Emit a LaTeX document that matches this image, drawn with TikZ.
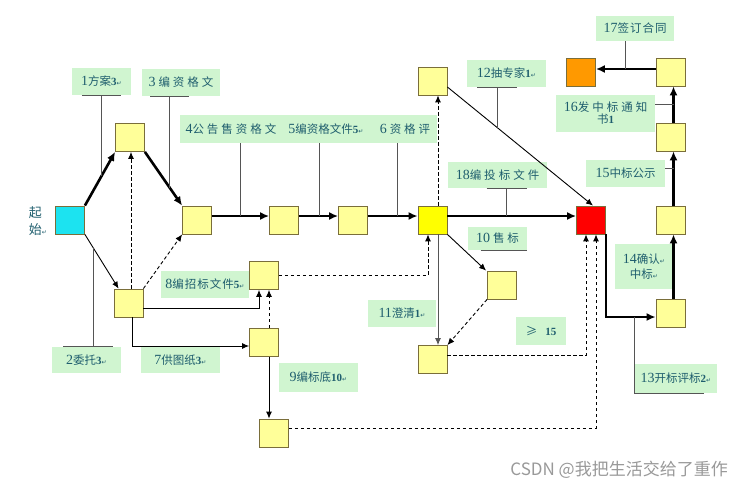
\documentclass[tikz,border=0pt]{standalone}
\usepackage{fontspec}
\setmainfont{Liberation Serif}
\newfontfamily\cjk{Noto Sans CJK SC}
\newfontfamily\djv{DejaVu Sans}
\usetikzlibrary{calc,arrows.meta}
\definecolor{boxy}{HTML}{FFFF99}
\definecolor{boxline}{HTML}{7A6E3A}
\definecolor{brighty}{HTML}{FFFF00}
\definecolor{startcyan}{HTML}{1CE3F0}
\definecolor{endred}{HTML}{FF0000}
\definecolor{signorange}{HTML}{FF9900}
\definecolor{labgreen}{HTML}{D0F5D0}
\definecolor{labtext}{HTML}{1F5E6E}
\definecolor{leadgray}{HTML}{555555}
\newcommand\retmark{{\djv\fontsize{6}{6}\selectfont ↵}}
\newcommand\nm[1]{{\fontsize{14}{14}\selectfont #1}}
\newcommand\bn[1]{{\fontsize{11}{11}\selectfont\bfseries #1}}
\newcommand\gp{\hspace{3pt}}
\begin{document}
\begin{tikzpicture}[x=1pt,y=-1pt,
  box/.style={draw=boxline, fill=boxy, minimum width=29pt, minimum height=28pt, inner sep=0pt, line width=0.8pt},
  lab/.style={fill=labgreen, text=labtext, inner sep=0pt, align=center, font=\cjk\fontsize{11.5}{15}\selectfont},
  thickarr/.style={line width=2.6pt, -{Latex[length=9pt,width=8pt]}},
  thinarr/.style={line width=0.9pt, -{Latex[length=7pt,width=6pt]}},
  dasharr/.style={thinarr, dash pattern=on 3.5pt off 2.5pt},
  leader/.style={line width=0.7pt, draw=leadgray}]
\useasboundingbox[fill=white] (0,0) rectangle (743,490);

% labels
\node[lab, minimum width=59pt, minimum height=27pt] (L1) at (101.5,81.5) {{\rmfamily\nm{1}}方案{\rmfamily\bn{3}}\retmark};
\node[lab, minimum width=78pt, minimum height=27pt] (L3) at (181,82.5) {{\rmfamily\nm{3}}\gp 编\gp 资\gp 格\gp 文};
\node[lab, minimum width=257pt, minimum height=28pt] (L456) at (308.5,129) {};
\node[text=labtext, font=\cjk\fontsize{11.5}{15}\selectfont, inner sep=0pt] (L4) at (231,129) {{\rmfamily\nm{4}}公\gp 告\gp 售\gp 资\gp 格\gp 文};
\node[text=labtext, font=\cjk\fontsize{11.5}{15}\selectfont, inner sep=0pt] (L5) at (326,129) {{\rmfamily\nm{5}}编资格文件{\rmfamily\bn{5}}\retmark};
\node[text=labtext, font=\cjk\fontsize{11.5}{15}\selectfont, inner sep=0pt] (L6) at (405,129) {{\rmfamily\nm{6}}\gp 资\gp 格\gp 评};
\node[lab, minimum width=79pt, minimum height=27pt] (L12) at (506.5,73.5) {{\rmfamily\nm{12}}抽专家{\rmfamily\bn{1}}\retmark};
\node[lab, minimum width=78pt, minimum height=25pt] (L17) at (635,28.5) {{\rmfamily\nm{17}}签\hspace{1pt}订\hspace{1pt}合\hspace{1pt}同};
\node[lab, minimum width=99pt, minimum height=37pt] (L16) at (605.5,113.5) {{\rmfamily\nm{16}}发\gp 中\gp 标\gp 通\gp 知\\[-3pt]书{\rmfamily\bn{1}}\hspace{50pt}};
\node[lab, minimum width=79pt, minimum height=27pt] (L15) at (625.5,173.5) {{\rmfamily\nm{15}}中标公示};
\node[lab, minimum width=99pt, minimum height=26pt] (L18) at (497.5,175) {{\rmfamily\nm{18}}编\gp 投\gp 标\gp 文\gp 件};
\node[lab, minimum width=59pt, minimum height=23pt] (L10) at (497.5,238.5) {{\rmfamily\nm{10}}\gp 售\gp 标};
\node[lab, minimum width=58pt, minimum height=45pt] (L14) at (644,266.5) {{\rmfamily\nm{14}}确认\retmark\\中标\retmark};
\node[lab, minimum width=68pt, minimum height=27pt] (L11) at (402,313.5) {{\rmfamily\nm{11}}澄清{\rmfamily\bn{1}}\retmark};
\node[lab, minimum width=50pt, minimum height=28pt] (L15b) at (541,331) {≥\hspace{8pt}{\rmfamily\bn{15}}};
\node[lab, minimum width=82pt, minimum height=29pt] (L13) at (676,378.5) {{\rmfamily\nm{13}}开标评标{\rmfamily\bn{2}}\retmark};
\node[lab, minimum width=88pt, minimum height=27pt] (L8) at (205,284.5) {{\rmfamily\nm{8}}编\hspace{1pt}招\hspace{1pt}标\hspace{1pt}文\hspace{1pt}件{\rmfamily\bn{5}}\retmark};
\node[lab, minimum width=79pt, minimum height=26pt] (L7) at (180.5,360) {{\rmfamily\nm{7}}供图纸{\rmfamily\bn{3}}\retmark};
\node[lab, minimum width=69pt, minimum height=26pt] (L2) at (86.5,360) {{\rmfamily\nm{2}}委托{\rmfamily\bn{3}}\retmark};
\node[lab, minimum width=79pt, minimum height=29pt] (L9) at (318.5,377.5) {{\rmfamily\nm{9}}编标底{\rmfamily\bn{10}}\retmark};

\node[text=labtext, font=\cjk\fontsize{13}{17}\selectfont, align=left, inner sep=0pt] (qs) at (38,221) {起\\始\retmark};

% boxes
\node[box, fill=startcyan] (S) at (70,220) {};
\node[box] (A) at (130,137.5) {};
\node[box] (B) at (197,220) {};
\node[box] (C) at (128.5,303) {};
\node[box] (D) at (284,220) {};
\node[box] (E) at (353,220) {};
\node[box, fill=brighty] (F) at (432.5,220) {};
\node[box] (G) at (432.5,81) {};
\node[box] (H) at (264,275.5) {};
\node[box] (I) at (264,342.5) {};
\node[box] (J) at (274,433) {};
\node[box] (K) at (502,285) {};
\node[box] (L) at (432.5,359.5) {};
\node[box, fill=endred] (R) at (591,220) {};
\node[box] (M) at (670.5,313) {};
\node[box] (N) at (670.5,220) {};
\node[box] (O) at (670.5,137) {};
\node[box] (P) at (670.5,72) {};
\node[box, fill=signorange] (Q) at (581,72) {};

% thick arrows
\draw[thickarr] (S.north east) -- coordinate[pos=0.548] (s1) (A.south west);
\draw[thickarr] (A.south east) -- coordinate[pos=0.67] (a1) (B.north west);
\draw[thickarr] ([yshift=4pt]B.east) -- coordinate[pos=0.49] (b1) ([yshift=4pt]D.west);
\draw[thickarr] ([yshift=4pt]D.east) -- coordinate[pos=0.51] (c1) ([yshift=4pt]E.west);
\draw[thickarr] ([yshift=4pt]E.east) -- coordinate[pos=0.6] (e1) ([yshift=4pt]F.west);
\draw[thickarr] ([yshift=4pt]F.east) -- coordinate[pos=0.46] (f1) ([yshift=4pt]R.west);
\coordinate (m1) at ([yshift=-4pt]M.west);
\draw[thickarr] (R.south east) |- (m1);
\draw[thickarr] ([xshift=3pt]M.north) -- ([xshift=3pt]N.south);
\draw[thickarr] ([xshift=3pt]N.north) -- coordinate[pos=0.69] (n1) ([xshift=3pt]O.south);
\draw[thickarr] ([xshift=3pt]O.north) -- coordinate[pos=0.51] (o1) ([xshift=3pt]P.south);
\draw[thickarr] ([yshift=3pt]P.west) -- coordinate[pos=0.51] (p1) ([yshift=3pt]Q.east);

% thin arrows
\draw[thinarr] (S.south east) -- coordinate[pos=0.25] (s2) ([xshift=5pt]C.north west);
\draw[thinarr] ([yshift=-5pt]C.east) -| ([xshift=-5pt]H.south);
\draw[thinarr] ([xshift=3.5pt]C.south) |- ([yshift=-3.5pt]I.west);
\draw[thinarr] ([xshift=5pt]I.south) -- ([xshift=-5pt]J.north);
\draw[thinarr] (F.south east) -- ([xshift=-1pt]K.north west);
\draw[thinarr, draw=leadgray] ([xshift=5.5pt]F.south) -- ([xshift=5.5pt]L.north);
\draw[thinarr] ([yshift=-6pt]G.east) -- coordinate[pos=0.342] (g1) ([xshift=2pt]R.north);

% dashed arrows
\draw[dasharr] ([xshift=2.5pt]C.north) -- ([xshift=1pt]A.south);
\draw[dasharr] (C.north east) -- (B.south west);
\draw[dasharr] ([xshift=5pt]I.north) -- ([xshift=5pt]H.south);
\draw[dasharr] (H.east) -| ([xshift=-4.5pt]F.south);
\draw[dasharr] ([xshift=5.5pt]F.north) -- ([xshift=5.5pt]G.south);
\draw[dasharr] (K.south west) -- (L.north east);
\draw[dasharr] ([yshift=4pt]L.east) -| ([xshift=-5pt]R.south);
\draw[dasharr] ([yshift=5pt]J.east) -| ([xshift=5pt]R.south);

% leaders
\draw[leader] (s1) -- (s1 |- L1.south);
\draw[leader] ($(s1 |- L1.south)+(-19.5,0)$) -- ($(s1 |- L1.south)+(19.5,0)$);
\draw[leader] (a1) -- (a1 |- L3.south);
\draw[leader] ($(a1 |- L3.south)+(-19.5,0)$) -- ($(a1 |- L3.south)+(19.5,0)$);
\draw[leader] (b1) -- (b1 |- L456.south);
\draw[leader] (c1) -- (c1 |- L456.south);
\draw[leader] (e1) -- (e1 |- L456.south);
\draw[leader] (f1) -- (f1 |- L18.south);
\draw[leader] ($(f1 |- L18.south)+(-20,0)$) -- ($(f1 |- L18.south)+(20,0)$);
\draw[leader] (g1) -- (g1 |- L12.south);
\draw[leader] ($(g1 |- L12.south)+(-20,0)$) -- ($(g1 |- L12.south)+(20,0)$);
\draw[leader] (p1) -- (p1 |- L17.south);
\draw[leader] (o1 -| L16.east) -- (o1);
\draw[leader] (n1 -| L15.east) -- (n1);
\draw[leader] (L13.west |- m1) -- (L13.south west) -- ($(L13.south west)+(69,0)$);
\draw[leader] (s2) -- (s2 |- L2.north);
\draw[leader] ($(s2 |- L2.north)+(-30,0)$) -- ($(s2 |- L2.north)+(20,0)$);
\draw[leader] ($(L10.south)+(-17,0)$) -- ($(L10.south)+(29.5,0)$);

% watermark
\node[text=gray!80, font=\cjk\fontsize{17}{17}\selectfont, anchor=east, inner sep=0pt] (wm) at (728,470) {CSDN @我把生活交给了重作};
\end{tikzpicture}
\end{document}
